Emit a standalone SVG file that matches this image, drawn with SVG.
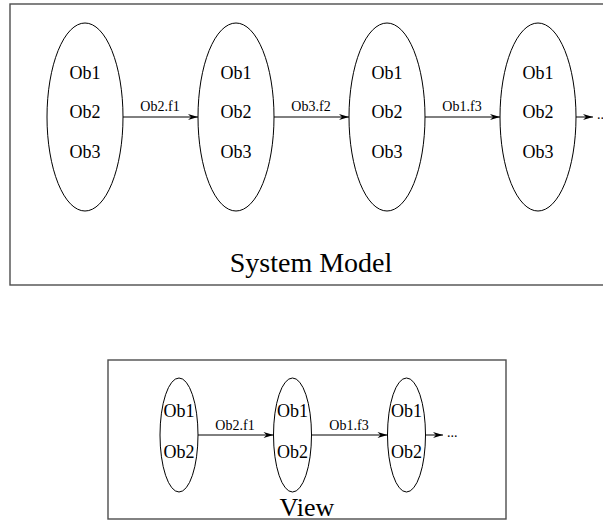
<svg xmlns="http://www.w3.org/2000/svg" width="603" height="529" viewBox="0 0 603 529">
  <style>
    .frame { fill: none; stroke: #4d4d4d; stroke-width: 1.4; }
    .state { fill: none; stroke: #000; stroke-width: 1; }
    .obj { font-family: "Liberation Serif", "Times New Roman", serif; font-size: 18px; fill: #000; text-anchor: middle; }
    .lbl { font-family: "Liberation Serif", "Times New Roman", serif; font-size: 14px; fill: #000; text-anchor: middle; }
    .dots { font-family: "Liberation Serif", "Times New Roman", serif; font-size: 14px; fill: #000; }
    .title { font-family: "Liberation Serif", "Times New Roman", serif; fill: #000; text-anchor: middle; }
    .edge { stroke: #000; stroke-width: 1; fill: none; marker-end: url(#head); }
  </style>
  <defs>
    <marker id="head" viewBox="-11 -4 12 8" refX="0" refY="0" markerWidth="12" markerHeight="8" markerUnits="userSpaceOnUse" orient="auto">
      <path d="M0,0 L-10,-3 L-7,0 L-10,3 Z" fill="#000"/>
    </marker>
  </defs>

  <!-- upper panel: system model -->
  <rect class="frame" x="10" y="4" width="603" height="281"/>
  <text class="title" x="311" y="272" font-size="28">System Model</text>

  <g id="sm-state1">
    <ellipse class="state" cx="85" cy="117" rx="38" ry="94"/>
    <text class="obj" x="85" y="79">Ob1</text>
    <text class="obj" x="85" y="118">Ob2</text>
    <text class="obj" x="85" y="158">Ob3</text>
  </g>
  <g id="sm-state2">
    <ellipse class="state" cx="236" cy="117" rx="38" ry="94"/>
    <text class="obj" x="236" y="79">Ob1</text>
    <text class="obj" x="236" y="118">Ob2</text>
    <text class="obj" x="236" y="158">Ob3</text>
  </g>
  <g id="sm-state3">
    <ellipse class="state" cx="387" cy="117" rx="38" ry="94"/>
    <text class="obj" x="387" y="79">Ob1</text>
    <text class="obj" x="387" y="118">Ob2</text>
    <text class="obj" x="387" y="158">Ob3</text>
  </g>
  <g id="sm-state4">
    <ellipse class="state" cx="538" cy="117" rx="38" ry="94"/>
    <text class="obj" x="538" y="79">Ob1</text>
    <text class="obj" x="538" y="118">Ob2</text>
    <text class="obj" x="538" y="158">Ob3</text>
  </g>

  <!-- lower panel: view -->
  <rect class="frame" x="108" y="360" width="398" height="159"/>
  <text class="title" x="307" y="516" font-size="26">View</text>

  <g id="view-state1">
    <ellipse class="state" cx="179" cy="435" rx="19" ry="57"/>
    <text class="obj" x="179" y="417">Ob1</text>
    <text class="obj" x="179" y="458">Ob2</text>
  </g>
  <g id="view-state2">
    <ellipse class="state" cx="292.5" cy="435" rx="19" ry="57"/>
    <text class="obj" x="292.5" y="417">Ob1</text>
    <text class="obj" x="292.5" y="458">Ob2</text>
  </g>
  <g id="view-state3">
    <ellipse class="state" cx="406.5" cy="435" rx="19" ry="57"/>
    <text class="obj" x="406.5" y="417">Ob1</text>
    <text class="obj" x="406.5" y="458">Ob2</text>
  </g>

  <!-- transitions -->
  <g id="connectors">
    <line class="edge" x1="123" y1="117" x2="198" y2="117"/>
    <text class="lbl" x="160" y="111">Ob2.f1</text>
    <line class="edge" x1="274" y1="117" x2="349" y2="117"/>
    <text class="lbl" x="311" y="111">Ob3.f2</text>
    <line class="edge" x1="425" y1="117" x2="500" y2="117"/>
    <text class="lbl" x="462" y="111">Ob1.f3</text>
    <line class="edge" x1="576" y1="117" x2="593" y2="117"/>
    <text class="dots" x="597" y="119">...</text>

    <line class="edge" x1="198" y1="435" x2="273.5" y2="435"/>
    <text class="lbl" x="235" y="430">Ob2.f1</text>
    <line class="edge" x1="311.5" y1="435" x2="387.5" y2="435"/>
    <text class="lbl" x="349" y="430">Ob1.f3</text>
    <line class="edge" x1="425.5" y1="435" x2="443" y2="435"/>
    <text class="dots" x="447" y="437">...</text>
  </g>
</svg>
